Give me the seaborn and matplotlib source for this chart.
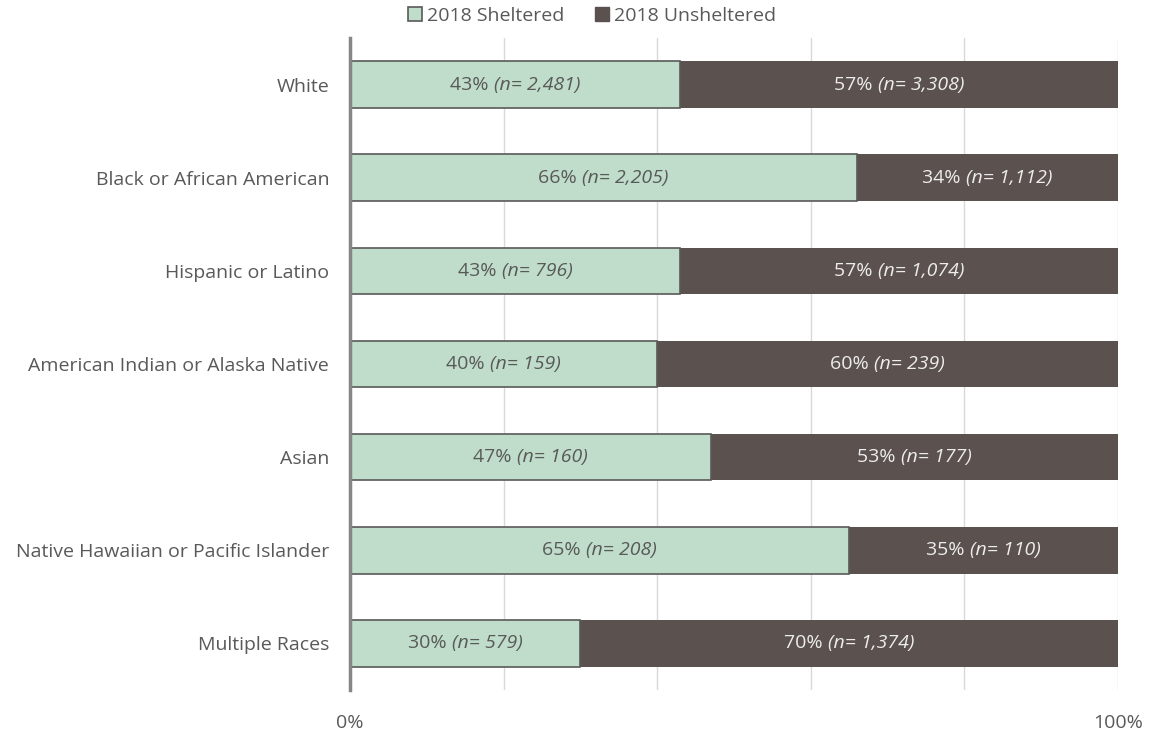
import matplotlib
matplotlib.use("Agg")
import matplotlib.pyplot as plt
import matplotlib.transforms as mtransforms
from matplotlib.patches import Patch
import seaborn as sns
import pandas as pd
import numpy as np

categories = ["White", "Black or African American", "Hispanic or Latino",
              "American Indian or Alaska Native", "Asian",
              "Native Hawaiian or Pacific Islander", "Multiple Races"]
sheltered_n = [2481, 2205, 796, 159, 160, 208, 579]
unsheltered_n = [3308, 1112, 1074, 239, 177, 110, 1374]
sheltered_pct = [43, 66, 43, 40, 47, 65, 30]
unsheltered_pct = [57, 34, 57, 60, 53, 35, 70]
series_names = ["2018 Sheltered", "2018 Unsheltered"]
x_tick_labels = ["0%", "", "", "", "", "100%"]

c_shel = "#BFDDCA"
c_uns = "#5B514E"
c_text = "#595959"
c_text_light = "#EDEDED"
edge = "#595959"
FS = 14

sns.set_theme(style="white")
plt.rcParams['font.family'] = ['Open Sans', 'DejaVu Sans']

df = pd.DataFrame({
    "category": categories,
    "sheltered": np.array(sheltered_pct) / 100,
    "total": (np.array(sheltered_pct) + np.array(unsheltered_pct)) / 100,
})

fig = plt.figure(figsize=(11.54, 7.33), dpi=100)
ax = fig.add_axes([350/1154, 1 - 690/733, (1118-350)/1154, (690-38)/733])

sns.barplot(data=df, y="category", x="total", color=c_uns, orient="h",
            width=0.5, ax=ax, saturation=1, edgecolor=c_uns, linewidth=0)
sns.barplot(data=df, y="category", x="sheltered", color=c_shel, orient="h",
            width=0.5, ax=ax, saturation=1, edgecolor=edge, linewidth=1.2)

ax.set_xlim(0, 1)
ax.set_ylim(6.5, -0.5)
ax.set_xticks(np.linspace(0, 1, 6))
ax.set_xticklabels(x_tick_labels)
ax.xaxis.grid(True, color="#D9D9D9", linewidth=1)
ax.set_axisbelow(True)
ax.set_xlabel("")
ax.set_ylabel("")
for s in ["top", "right", "bottom"]:
    ax.spines[s].set_visible(False)
ax.spines["left"].set_color("#868686")
ax.spines["left"].set_linewidth(2.5)
ax.tick_params(axis="x", length=0, pad=17, labelsize=FS, labelcolor=c_text)
ax.tick_params(axis="y", length=0, pad=15, labelsize=FS, labelcolor=c_text)

renderer = fig.canvas.get_renderer()

def two_part_label(xc, y, a, b, color):
    t1 = ax.text(xc, y, a, ha="left", va="center", fontsize=FS, color=color)
    t2 = ax.text(xc, y, b, ha="left", va="center", fontsize=FS, style="italic", color=color)
    w1 = t1.get_window_extent(renderer).width
    w2 = t2.get_window_extent(renderer).width
    total = w1 + w2
    t1.set_transform(mtransforms.offset_copy(ax.transData, fig, x=-total/2, y=0, units="dots"))
    t2.set_transform(mtransforms.offset_copy(ax.transData, fig, x=-total/2 + w1, y=0, units="dots"))

for i, cat in enumerate(categories):
    s = sheltered_pct[i] / 100
    tot = (sheltered_pct[i] + unsheltered_pct[i]) / 100
    two_part_label(s / 2, i, f"{sheltered_pct[i]}% ", f"(n= {sheltered_n[i]:,})", c_text)
    two_part_label(s + (tot - s) / 2, i, f"{unsheltered_pct[i]}% ",
                   f"(n= {unsheltered_n[i]:,})", c_text_light)

handles = [Patch(facecolor=c_shel, edgecolor=edge, linewidth=1.2, label=series_names[0]),
           Patch(facecolor=c_uns, edgecolor=c_uns, label=series_names[1])]
leg = fig.legend(handles=handles, loc="center", bbox_to_anchor=(592/1154, 1 - 16/733),
                 ncol=2, frameon=False, fontsize=FS, handlelength=0.7, handleheight=0.7,
                 handletextpad=0.25, columnspacing=1.6)
for t in leg.get_texts():
    t.set_color(c_text)

fig.savefig("out.png", dpi=100)
